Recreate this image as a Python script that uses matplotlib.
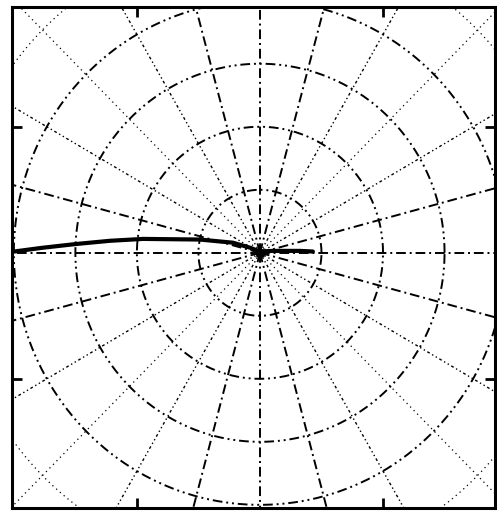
#import modules
import matplotlib.pyplot as plt
import numpy as np

#data (x, y in plot units)
curve_x = [-4.15, -3.53, -2.98, -2.44, -1.90, -0.98, -0.44, -0.16, 0.0, 0.21, 0.65, 0.86]
curve_y = [0.0, 0.08, 0.14, 0.19, 0.22, 0.21, 0.16, 0.08, 0.02, 0.03, 0.03, 0.02]
circle_radii = [1, 2, 3, 4, 5]
spoke_angles = list(range(0, 360, 15))
tick_pos = [-2, 2]

fig = plt.figure(figsize=(4.97, 5.13), dpi=100)
ax = fig.add_axes([12/497, 5/513, 483/497, 501/513])

#circles
t = np.linspace(0, 2*np.pi, 400)
for r in circle_radii:
    if r < 5:
        ax.plot(r*np.cos(t), r*np.sin(t), color='black', lw=1.4, linestyle=(0, (5, 2, 1, 2, 1, 2)))
    else:
        ax.plot(r*np.cos(t), r*np.sin(t), color='black', lw=0.9, linestyle=(0, (1, 3)))

#spokes
for a in spoke_angles:
    rad = np.deg2rad(a)
    m = a % 90
    if m in (0, 15, 75):
        ls, lw = (0, (5, 2, 1, 2)), 1.4
    elif m in (30, 60):
        ls, lw = (0, (2, 2, 1, 2, 1, 2)), 1.0
    else:
        ls, lw = (0, (1, 3)), 0.9
    ax.plot([0, 7*np.cos(rad)], [0, 7*np.sin(rad)], color='black', lw=lw, linestyle=ls)

#response curve
ax.plot(curve_x, curve_y, color='black', lw=3.0, solid_capstyle='round')
ax.plot(0, 0, 'o', color='black', ms=6)

ax.set_xlim(-4.03, 3.82)
ax.set_ylim(-4.05, 3.9)
ax.set_xticks(tick_pos)
ax.set_yticks(tick_pos)
ax.tick_params(direction='in', length=7, width=2, top=True, right=True,
               labelbottom=False, labelleft=False)
for s in ax.spines.values():
    s.set_linewidth(2.2)

fig.savefig('out.png', dpi=100)
